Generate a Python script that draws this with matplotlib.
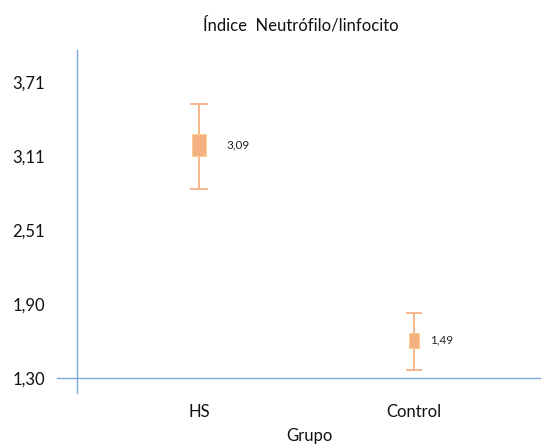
#!/usr/bin/env python3

import matplotlib.pyplot as plt
from matplotlib.ticker import FixedLocator

plt.rcParams["font.family"] = ["Lato", "DejaVu Sans"]

# datos
grupos = ["HS", "Control"]
centro = [3.20, 1.61]
sup = [3.53, 1.83]
inf = [2.84, 1.365]
etiquetas = ["3,09", "1,49"]
yticks = [1.30, 1.9025, 2.505, 3.1075, 3.71]
ytick_txt = ["1,30", "1,90", "2,51", "3,11", "3,71"]

naranja = "#F4B183"
azul = "#7FA7D6"

fig = plt.figure(figsize=(5.41, 4.47), dpi=100)
ax = fig.add_axes([77 / 541, 1 - 393 / 447, 464 / 541, 343 / 447])

x = [1, 2]
alto_marca = [22, 15]   # px
desp_texto = [20, 9]    # px desde el centro

rect = [(-0.34, -0.5), (0.34, -0.5), (0.34, 0.5), (-0.34, 0.5), (-0.34, -0.5)]

for i in range(len(grupos)):
    err = [[centro[i] - inf[i]], [sup[i] - centro[i]]]
    ax.errorbar([x[i]], [centro[i]], yerr=err, fmt="none", ecolor=naranja,
                elinewidth=1.3, capsize=6.5 - i * 0.5, capthick=1.3, zorder=2)
    ax.plot([x[i]], [centro[i]], marker=rect, markersize=alto_marca[i] * 0.72,
            markerfacecolor=naranja, markeredgecolor="#F9D08E",
            markeredgewidth=0.7, linestyle="none", zorder=3)
    ax.annotate(etiquetas[i], (x[i], centro[i]), xytext=(desp_texto[i] + 7, 0),
                textcoords="offset pixels", va="center", ha="left",
                fontsize=8.5, color="#222222")

ax.set_xlim(0.432, 2.59)
ax.set_ylim(1.178, 3.97)

ax.yaxis.set_major_locator(FixedLocator(yticks))
ax.set_yticklabels(ytick_txt)
ax.set_xticks(x)
ax.set_xticklabels(grupos)
ax.tick_params(axis="y", length=0, pad=23, labelsize=12, labelcolor="#111111")
ax.tick_params(axis="x", length=0, pad=8, labelsize=12, labelcolor="#111111")

for s in ["top", "right", "bottom"]:
    ax.spines[s].set_visible(False)
ax.spines["left"].set_color(azul)
ax.spines["left"].set_linewidth(1.0)

# linea horizontal en 1,30 (sale un poco a la izquierda del eje)
ax.plot([-20 / 464, 1], [yticks[0], yticks[0]], color=azul, lw=1.0,
        transform=ax.get_yaxis_transform(), clip_on=False, zorder=1)

ax.set_xlabel("Grupo", fontsize=12, color="#111111", labelpad=6)
fig.text(301 / 541, 1 - 25 / 447, "Índice  Neutrófilo/linfocito", ha="center",
         va="center", fontsize=12, color="#111111")

fig.savefig("out.png", dpi=100)
